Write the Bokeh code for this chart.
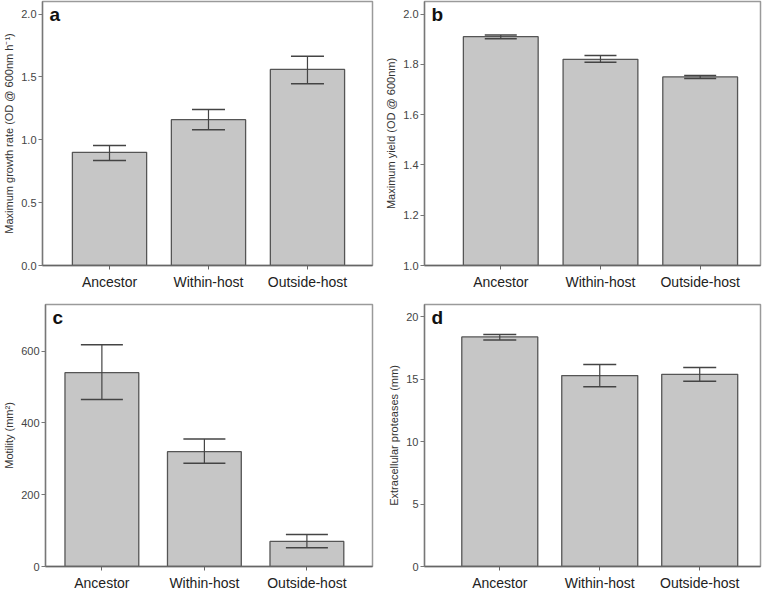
from bokeh.plotting import figure
from bokeh.models import Range1d, FixedTicker, Whisker, TeeHead, ColumnDataSource, Label, NumeralTickFormatter
from bokeh.layouts import row, column
from bokeh.embed import file_html
from bokeh.resources import INLINE

categories = ["Ancestor", "Within-host", "Outside-host"]

growth_mean = [0.90, 1.16, 1.56]
growth_lower = [0.835, 1.08, 1.445]
growth_upper = [0.955, 1.24, 1.665]

yield_mean = [1.91, 1.82, 1.75]
yield_lower = [1.902, 1.808, 1.744]
yield_upper = [1.917, 1.835, 1.756]

motility_mean = [540, 320, 70]
motility_lower = [465, 288, 52]
motility_upper = [618, 355, 89]

protease_mean = [18.4, 15.3, 15.4]
protease_lower = [18.15, 14.4, 14.85]
protease_upper = [18.6, 16.2, 15.95]

FONT = "Liberation Sans"
BAR_FILL = "#c6c6c6"
BAR_LINE = "#555555"


def panel(letter, means, lower, upper, ylabel, y_start, y_end, ticks, fmt,
          x_start, x_end, bar_width, width, height, bl, br, bt, bb, bottom=0.0, cap=33):
    p = figure(width=width, height=height, output_backend="svg", toolbar_location=None,
               x_range=Range1d(x_start, x_end), y_range=Range1d(y_start, y_end),
               min_border_left=bl, min_border_right=br, min_border_top=bt, min_border_bottom=bb)
    xs = [i + 0.5 for i in range(len(categories))]
    src = ColumnDataSource(dict(x=xs, top=means, lower=lower, upper=upper))
    p.vbar(x="x", top="top", bottom=bottom, width=bar_width, source=src,
           fill_color=BAR_FILL, line_color=BAR_LINE, line_width=1.3)
    w = Whisker(base="x", lower="lower", upper="upper", source=src, level="overlay",
                line_color="#444444", line_width=1.2,
                upper_head=TeeHead(size=cap, line_color="#444444", line_width=1.5),
                lower_head=TeeHead(size=cap, line_color="#444444", line_width=1.5))
    p.add_layout(w)

    p.xgrid.visible = False
    p.ygrid.visible = False
    p.outline_line_color = "#9a9a9a"
    p.outline_line_width = 1.5
    p.background_fill_color = "white"
    p.border_fill_color = "white"

    p.xaxis.ticker = FixedTicker(ticks=xs)
    p.xaxis.major_label_overrides = {x: c for x, c in zip(xs, categories)}
    p.xaxis.minor_tick_line_color = None
    p.xaxis.major_tick_in = 0
    p.xaxis.major_tick_out = 4
    p.xaxis.major_label_standoff = 4
    p.xaxis.major_label_text_font = FONT
    p.xaxis.major_label_text_font_size = "14px"
    p.xaxis.major_label_text_color = "#222222"
    p.xaxis.axis_line_color = "#666666"
    p.xaxis.axis_line_width = 1.3
    p.xaxis.major_tick_line_color = "#666666"

    p.yaxis.ticker = FixedTicker(ticks=ticks)
    p.yaxis.formatter = NumeralTickFormatter(format=fmt)
    p.yaxis.minor_tick_line_color = None
    p.yaxis.major_tick_in = 0
    p.yaxis.major_tick_out = 4
    p.yaxis.major_label_standoff = 2
    p.yaxis.major_label_text_font = FONT
    p.yaxis.major_label_text_font_size = "11px"
    p.yaxis.major_label_text_color = "#444444"
    p.yaxis.axis_line_color = "#777777"
    p.yaxis.axis_line_width = 1.3
    p.yaxis.major_tick_line_color = "#777777"
    p.yaxis.axis_label = ylabel
    p.yaxis.axis_label_text_font = FONT
    p.yaxis.axis_label_text_font_style = "normal"
    p.yaxis.axis_label_text_font_size = "11px"
    p.yaxis.axis_label_text_color = "#333333"
    p.yaxis.axis_label_standoff = 3

    p.add_layout(Label(x=x_start, y=y_end, x_offset=7, y_offset=-2, text=letter,
                       text_font=FONT, text_font_style="bold", text_font_size="19px",
                       text_baseline="top", text_color="#111111"))
    return p


pa = panel("a", growth_mean, growth_lower, growth_upper,
           "Maximum growth rate (OD @ 600nm h\u207b\u00b9)", 0.0, 2.1,
           [0.0, 0.5, 1.0, 1.5, 2.0], "0.0", -0.177, 3.157, 0.75,
           381, 292, 37, 9, 1, 25)
pb = panel("b", yield_mean, yield_lower, yield_upper,
           "Maximum yield (OD @ 600nm)", 1.0, 2.05,
           [1.0, 1.2, 1.4, 1.6, 1.8, 2.0], "0.0", -0.265, 3.105, 0.75,
           381, 292, 43, 2, 1, 25, bottom=1.0, cap=32)
pc = panel("c", motility_mean, motility_lower, motility_upper,
           "Motility (mm\u00b2)", 0, 730,
           [0, 200, 400, 600], "0", -0.05, 3.14, 0.72,
           381, 301, 37, 9, 12, 23, cap=42)
pd_ = panel("d", protease_mean, protease_lower, protease_upper,
            "Extracellular proteases (mm)", 0, 21,
            [0, 5, 10, 15, 20], "0", -0.253, 3.108, 0.76,
            381, 301, 43, 2, 12, 23, cap=33)

layout = column(row(pa, pb), row(pc, pd_))

open("out.html", "w").write(file_html(layout, INLINE))
